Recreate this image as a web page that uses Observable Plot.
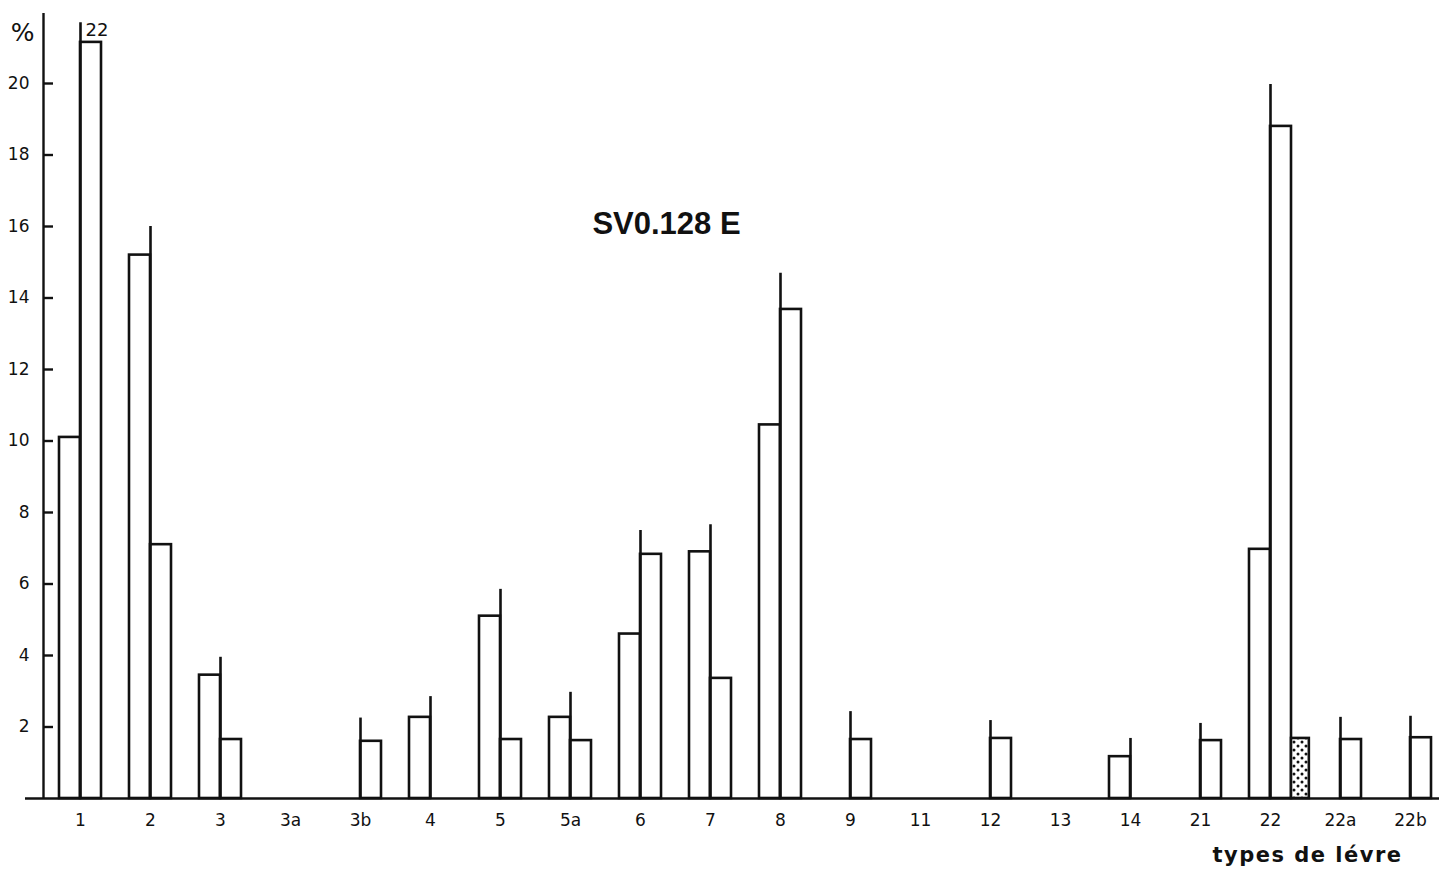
<!DOCTYPE html>
<html>
<head>
<meta charset="utf-8">
<script src="https://cdn.jsdelivr.net/npm/d3@7"></script>
<script src="https://cdn.jsdelivr.net/npm/@observablehq/plot@0.6"></script>
<style>
  html, body { margin: 0; padding: 0; background: #fff; }
  #chart { width: 1439px; height: 875px; }
</style>
</head>
<body>
<div id="chart"></div>
<script>
// lip types (categories)
const categories = ["1","2","3","3a","3b","4","5","5a","6","7","8","9","11","12","13","14","21","22","22a","22b"];
// left bar of each pair (%)
const seriesA = [10.1, 15.2, 3.45, 0, 0, 2.27, 5.1, 2.27, 4.6, 6.9, 10.45, 0, 0, 0, 0, 1.17, 0, 6.97, 0, 0];
// right bar of each pair (%)
const seriesB = [21.15, 7.1, 1.65, 0, 1.6, 0, 1.65, 1.62, 6.83, 3.36, 13.68, 1.65, 0, 1.68, 0, 0, 1.62, 18.8, 1.65, 1.7];
// dotted bar (%)
const seriesC = [0, 0, 0, 0, 0, 0, 0, 0, 0, 0, 0, 0, 0, 0, 0, 0, 0, 1.68, 0, 0];
// upper vertical line of each pair (%)
const upperLine = [21.7, 16.0, 3.95, null, 2.25, 2.85, 5.85, 2.97, 7.5, 7.66, 14.69, 2.43, null, 2.18, null, 1.68, 2.1, 19.97, 2.27, 2.3];
// annotation on the truncated line
const noteCategory = ["1"];
const noteText = ["22"];
// y tick values
const yTicks = [2, 4, 6, 8, 10, 12, 14, 16, 18, 20];
const title = "SV0.128 E";
const xTitle = "types de lévre";
const yTitle = "%";

const idx = d3.range(categories.length);
const W = 0.3; // bar width in category units
const barsA = idx.filter(i => seriesA[i] > 0).map(i => ({i, v: seriesA[i]}));
const barsB = idx.filter(i => seriesB[i] > 0).map(i => ({i, v: seriesB[i]}));
const barsC = idx.filter(i => seriesC[i] > 0).map(i => ({i, v: seriesC[i]}));
const lines = idx.filter(i => upperLine[i] != null).map(i => ({i, v: upperLine[i]}));
const notes = noteCategory.map((c, k) => ({i: categories.indexOf(c), v: upperLine[categories.indexOf(c)], t: noteText[k]}));

const width = 1439, height = 875;
const mL = 43, mR = 0, mT = 13, mB = 77;
const step = 70, first = 80;
const xMin = (mL - first) / step;
const xMax = xMin + (width - mL - mR) / step;
const pxPerUnit = 35.75;
const yMax = (height - mB - mT) / pxPerUnit;
const frameW = width - mL - mR;

const lw = 2.6;
const tickFont = "'DejaVu Sans', 'Liberation Sans', sans-serif";
const chart = Plot.plot({
  width, height,
  marginLeft: mL, marginRight: mR, marginTop: mT, marginBottom: mB,
  x: {type: "linear", domain: [xMin, xMax]},
  y: {domain: [0, yMax]},
  style: {fontFamily: "'Liberation Sans', Arial, sans-serif", fontSize: "17px", color: "#111", background: "#fff"},
  marks: [
    Plot.rectY(barsA, {x1: d => d.i - W, x2: d => d.i, y1: 0, y2: d => d.v, fill: "#fff", stroke: "#111", strokeWidth: lw}),
    Plot.rectY(barsB, {x1: d => d.i, x2: d => d.i + W, y1: 0, y2: d => d.v, fill: "#fff", stroke: "#111", strokeWidth: lw}),
    Plot.rectY(barsC, {x1: d => d.i + W, x2: d => d.i + W * 1.85, y1: 0, y2: d => d.v, fill: "url(#dots)", stroke: "#111", strokeWidth: lw}),
    Plot.ruleX(lines, {x: d => d.i, y1: 0, y2: d => d.v, stroke: "#111", strokeWidth: lw}),
    Plot.text(notes, {x: d => d.i, y: d => d.v, text: d => d.t, dx: 5, dy: 0, textAnchor: "start", lineAnchor: "top", fontSize: 18, fontFamily: tickFont, fill: "#111"}),
    // axes
    Plot.ruleX([xMin], {stroke: "#111", strokeWidth: 2.4}),
    Plot.ruleY([0], {stroke: "#111", strokeWidth: 2.4, insetLeft: -18}),
    Plot.tickY(yTicks, {y: d => d, stroke: "#111", strokeWidth: 2.4, insetRight: frameW - 10}),
    Plot.axisY(yTicks, {tickSize: 0, tickPadding: 14, fontSize: 17, fontFamily: tickFont, label: null}),
    Plot.axisX(idx, {tickFormat: i => categories[i], tickSize: 0, tickPadding: 15, fontSize: 17, fontFamily: tickFont, label: null}),
    Plot.text([yTitle], {frameAnchor: "top-left", textAnchor: "middle", dx: -21, dy: 10, fontSize: 25, fontFamily: tickFont, fill: "#111"}),
    Plot.text([title], {frameAnchor: "top", dx: -75, dy: 198, fontSize: 31, fontWeight: 700, fill: "#111"}),
    Plot.text([xTitle], {frameAnchor: "bottom", dx: 566, dy: 63, fontSize: 21, fontWeight: 700, fontFamily: "'DejaVu Sans', sans-serif", fill: "#111"})
  ]
});

// dotted pattern for the stippled bar
const ns = "http://www.w3.org/2000/svg";
const svg = chart.tagName.toLowerCase() === "svg" ? chart : chart.querySelector("svg");
const defs = document.createElementNS(ns, "defs");
const pat = document.createElementNS(ns, "pattern");
pat.setAttribute("id", "dots");
pat.setAttribute("patternUnits", "userSpaceOnUse");
pat.setAttribute("width", "8");
pat.setAttribute("height", "8");
const bg = document.createElementNS(ns, "rect");
bg.setAttribute("width", "8"); bg.setAttribute("height", "8"); bg.setAttribute("fill", "#fff");
pat.appendChild(bg);
[[2, 2], [6, 6]].forEach(([cx, cy]) => {
  const c = document.createElementNS(ns, "circle");
  c.setAttribute("cx", cx); c.setAttribute("cy", cy); c.setAttribute("r", "1.5"); c.setAttribute("fill", "#111");
  pat.appendChild(c);
});
defs.appendChild(pat);
svg.insertBefore(defs, svg.firstChild);
// letter spacing for the axis title, as in the original
svg.querySelectorAll("text").forEach(t => { if (t.textContent === xTitle) t.style.letterSpacing = "1.5px"; });
document.getElementById("chart").appendChild(chart);
</script>
</body>
</html>
